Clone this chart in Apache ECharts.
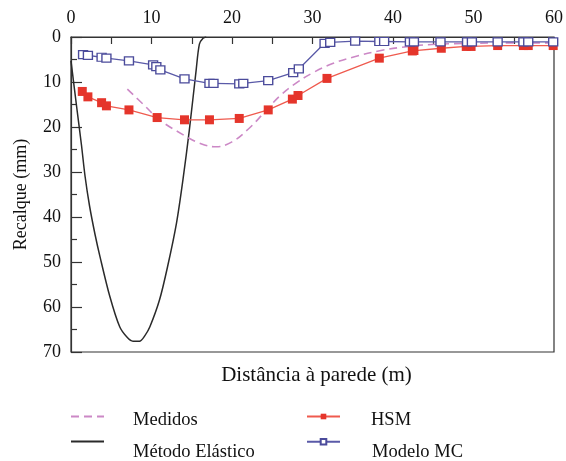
<!DOCTYPE html>
<html><head><meta charset="utf-8">
<script src="https://cdn.jsdelivr.net/npm/echarts@6/dist/echarts.min.js"></script>
<style>html,body{margin:0;padding:0;background:#fff}#c{width:566px;height:461px}</style>
</head><body><div id="c"></div>
<script>
const xTicks = [0,10,20,30,40,50,60];
const yTicks = [0,10,20,30,40,50,60,70];
const medX = [7.0,9.0,11.0,14.0,16.0,18.0,20.0,22.0,24.0,26.0,28.0,30.0,32.5,35.0,38.5,42.0,45.5,50.0,55.0,60.0];
const medY = [11.6,15.0,18.4,21.8,23.6,24.4,23.3,20.5,16.8,13.0,10.2,8.0,5.9,4.5,3.0,2.1,1.6,1.4,1.3,1.3];
const elaX = [0,0.7,1.3,1.75,2.3,3.0,3.6,4.8,6.05,7.0,7.7,8.5,9.2,9.8,11.0,12.0,13.1,13.9,14.7,15.55,15.95,16.4,16.8];
const elaY = [5.3,15.5,24.0,31.0,37.5,44.0,48.8,57.5,64.4,66.8,67.6,67.6,66.3,64.4,58.4,51.0,41.4,31.8,20.7,7.3,1.6,0.3,0];
const hsmX = [1.4,2.1,3.8,4.4,7.2,10.7,14.1,17.2,20.9,24.5,27.5,28.2,31.8,38.3,42.4,42.6,46.0,49.1,49.7,53.0,56.2,56.8,59.9];
const hsmY = [12.1,13.3,14.6,15.3,16.2,17.9,18.4,18.4,18.1,16.2,13.8,13.0,9.2,4.7,3.1,3.0,2.5,2.1,2.1,1.9,1.9,1.9,1.9];
const mcX = [1.5,2.1,3.8,4.4,7.2,10.2,10.6,11.1,14.1,17.2,17.7,20.9,21.4,24.5,27.6,28.3,31.5,32.2,35.3,38.3,38.9,42.1,42.6,45.9,49.2,49.8,53.0,56.2,56.8,59.9];
const mcY = [3.9,4.1,4.5,4.7,5.3,6.2,6.6,7.3,9.3,10.3,10.3,10.4,10.3,9.7,7.9,7.1,1.4,1.2,0.9,1.0,1.0,1.1,1.1,1.1,1.1,1.1,1.1,1.1,1.1,1.1];

const zip = (a,b) => a.map((v,i)=>[v,b[i]]);
const FONT = 'Liberation Serif';
const chart = echarts.init(document.getElementById('c'), null, {renderer:'canvas'});
// icon-only legends
const iconLeg = (name, left, top, hideSym) => ({
  data:[name], left, top, padding:0, itemWidth:33, itemHeight:7,
  formatter:()=> '', textStyle:{fontSize:1},
  itemStyle: hideSym ? {opacity:0} : {}
});
// text-only legends
const textLeg = (name, left, top) => ({
  data:[name], left, top, padding:0, itemWidth:0, itemHeight:10, itemGap:0,
  itemStyle:{opacity:0}, lineStyle:{opacity:0},
  textStyle:{fontFamily:FONT, fontSize:18.5, color:'#111', padding:0}
});
chart.setOption({
  animation:false,
  backgroundColor:'#fff',
  grid:{left:71,right:10,top:37,bottom:109,show:true,borderColor:'#333',borderWidth:1.2,backgroundColor:'transparent'},
  xAxis:[{
    type:'value',position:'top',min:0,max:60,interval:10,
    axisLine:{show:true,lineStyle:{color:'#333',width:1.2}},
    axisTick:{show:true,inside:true,length:7,lineStyle:{color:'#333',width:1.2}},
    minorTick:{show:true,splitNumber:2,length:7,lineStyle:{color:'#333',width:1.2}},
    splitLine:{show:false},
    axisLabel:{fontFamily:FONT,fontSize:18,color:'#111',margin:10,
      formatter:(v)=> xTicks.includes(v)? String(v):''}
  },{
    type:'value',position:'bottom',min:0,max:60,
    axisLine:{show:false},axisTick:{show:false},axisLabel:{show:false},splitLine:{show:false},
    name:'Distância à parede (m)',nameLocation:'middle',nameGap:13,
    nameTextStyle:{fontFamily:FONT,fontSize:21,color:'#111',verticalAlign:'top',padding:[0,0,0,8]}
  }],
  yAxis:{
    type:'value',inverse:true,min:0,max:70,interval:10,
    axisLine:{show:true,lineStyle:{color:'#333',width:1.2}},
    axisTick:{show:true,inside:true,length:11,lineStyle:{color:'#333',width:1.2}},
    minorTick:{show:true,splitNumber:2,length:6,lineStyle:{color:'#333',width:1.2}},
    splitLine:{show:false},
    axisLabel:{fontFamily:FONT,fontSize:18,color:'#111',margin:10,
      formatter:(v)=> yTicks.includes(v)? String(v):''},
    name:'Recalque (mm)',nameLocation:'middle',nameGap:41,
    nameTextStyle:{fontFamily:FONT,fontSize:18,color:'#111'}
  },
  legend:[
    iconLeg('Medidos',70,413,true),
    iconLeg('Método Elástico',70,438,true),
    iconLeg('HSM',306,413,false),
    iconLeg('Modelo MC',306,438,false),
    textLeg('Medidos',124,411),
    textLeg('Método Elástico',124,443),
    textLeg('HSM',362,411),
    textLeg('Modelo MC',362,443)
  ],
  series:[
    {name:'Método Elástico',type:'line',data:zip(elaX,elaY),smooth:0.3,showSymbol:false,symbol:'none',
     lineStyle:{color:'#2a2a2a',width:1.5},itemStyle:{color:'#2a2a2a'},z:2},
    {name:'Medidos',type:'line',data:zip(medX,medY),smooth:0.4,showSymbol:false,symbol:'none',
     lineStyle:{color:'#cc88c6',width:1.6,type:[8,5]},itemStyle:{color:'#cc88c6'},z:3},
    {name:'HSM',type:'line',data:zip(hsmX,hsmY),symbol:'rect',symbolSize:9,
     lineStyle:{color:'#ef5a4e',width:1.3},itemStyle:{color:'#e5352b'},z:4},
    {name:'Modelo MC',type:'line',data:zip(mcX,mcY),symbol:'rect',symbolSize:[9,8],
     lineStyle:{color:'#5a5aa8',width:1.3},itemStyle:{color:'#fff',borderColor:'#4b4b9b',borderWidth:1.3},z:5}
  ]
});
</script></body></html>
